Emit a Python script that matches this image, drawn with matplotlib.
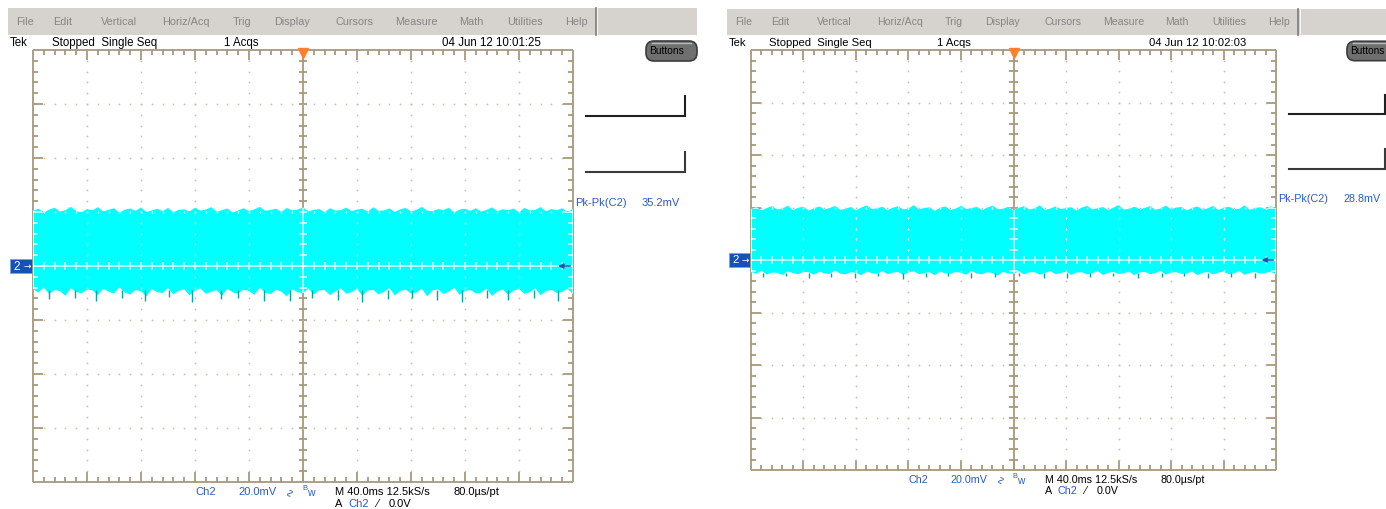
import numpy as np
import matplotlib
matplotlib.use("Agg")
import matplotlib.pyplot as plt
from matplotlib.collections import LineCollection
from matplotlib.patches import Rectangle, FancyBboxPatch
import matplotlib.transforms as mtransforms

W, H = 1386, 509
NARROW = ['Liberation Sans Narrow', 'Liberation Sans', 'DejaVu Sans']
SANS = ['Liberation Sans', 'DejaVu Sans']

# scope settings (same on both captures)
mv_per_div = 20.0
ms_per_div = 40.0
n_xdiv = 10
n_ydiv = 8
trig_pos_ms = 200.0
trig_level_mv = 0.0

menu_items = ["File", "Edit", "Vertical", "Horiz/Acq", "Trig", "Display",
              "Cursors", "Measure", "Math", "Utilities", "Help"]
menu_x = [25, 63, 119, 186, 242, 292, 354, 416, 471, 525, 576]

timestamps = ["04 Jun 12 10:01:25", "04 Jun 12 10:02:03"]
pkpk_vals = ["35.2mV", "28.8mV"]

# noise envelope of the captured trace (mV)
top_left = [20.5, 21.2, 19.8, 20.9, 21.6, 20.1, 20.7, 21.9, 20.3, 19.9, 21.1, 20.6, 21.8, 20.2,
            20.8, 21.4, 19.7, 20.9, 21.3, 20.4, 21.7, 20.0, 20.6, 21.2, 20.3, 21.5, 19.9, 20.8,
            21.0, 20.2, 21.6, 20.5, 20.9, 21.8, 20.1, 20.7, 21.3, 19.8, 20.6, 21.4, 20.3, 21.0,
            21.9, 20.4, 20.8, 21.2, 20.0, 21.5, 20.6, 20.9, 21.7, 20.2, 20.8, 21.1, 19.9, 21.4,
            20.5, 20.7, 21.6, 20.3, 20.9, 21.2, 20.1, 21.8, 20.4, 20.6, 21.3, 20.0, 21.0, 21.5,
            20.2, 20.8, 21.9, 20.5, 20.3, 21.1, 20.7, 21.6, 19.8, 20.9, 21.2, 20.4, 21.4, 20.1,
            20.8, 21.7, 20.3, 21.0, 20.6, 21.3, 19.9, 21.5, 20.5, 20.8, 21.8, 20.2, 21.1, 20.6,
            21.4, 20.0, 21.2]
bot_left = [-8.6, -9.8, -7.9, -10.4, -8.9, -9.3, -11.0, -8.2, -9.6, -10.1, -8.7, -9.0, -10.8,
            -8.4, -9.5, -10.2, -7.8, -9.9, -10.6, -8.8, -9.4, -11.2, -8.5, -9.7, -10.0, -8.1,
            -10.5, -9.2, -8.6, -10.9, -9.1, -8.3, -10.3, -9.6, -8.9, -11.1, -8.4, -9.8, -10.2,
            -8.7, -9.3, -10.7, -8.0, -9.9, -10.4, -8.8, -9.5, -11.3, -8.6, -9.7, -10.1, -8.3,
            -10.6, -9.0, -8.9, -10.8, -9.4, -8.2, -10.3, -9.7, -8.5, -11.0, -9.1, -8.8, -10.5,
            -9.6, -8.1, -10.9, -9.3, -8.7, -10.2, -9.8, -8.4, -11.2, -9.0, -8.6, -10.4, -9.5,
            -8.0, -10.7, -9.2, -8.9, -10.1, -9.9, -8.3, -11.1, -9.4, -8.7, -10.6, -9.1, -8.5,
            -10.3, -9.7, -8.2, -10.8, -9.3, -8.8, -10.0, -9.6, -8.4, -10.5]
spike_t_left = [12, 31, 47, 66, 83, 101, 118, 139, 152, 171, 190, 207, 226, 244, 263, 281,
                299, 318, 336, 352, 371, 389]
spike_v_left = [-12.4, -11.8, -13.1, -12.0, -12.9, -11.6, -13.4, -12.2, -11.9, -12.8, -13.0,
                -11.7, -12.5, -13.3, -12.1, -11.8, -12.7, -13.2, -12.0, -12.6, -11.9, -12.8]

top_right = [19.4, 20.1, 18.9, 19.8, 20.5, 19.2, 19.6, 20.7, 19.0, 19.9, 20.3, 18.8, 19.7, 20.4,
             19.3, 19.8, 20.6, 19.1, 19.5, 20.2, 18.9, 20.0, 20.8, 19.4, 19.7, 20.3, 19.0, 19.9,
             20.5, 19.2, 19.6, 20.9, 19.3, 19.8, 20.1, 18.7, 19.9, 20.4, 19.1, 19.6, 20.6, 19.4,
             19.8, 20.2, 19.0, 20.0, 20.7, 19.3, 19.5, 20.3, 18.9, 19.9, 20.5, 19.2, 19.7, 20.8,
             19.1, 19.6, 20.4, 19.4, 19.8, 20.1, 18.8, 20.0, 20.6, 19.3, 19.7, 20.2, 19.0, 19.9,
             20.9, 19.2, 19.5, 20.3, 19.4, 19.8, 20.5, 19.1, 19.6, 20.7, 19.3, 20.0, 20.2, 18.9,
             19.8, 20.4, 19.2, 19.7, 20.6, 19.0, 19.9, 20.3, 19.4, 19.5, 20.8, 19.1, 19.8, 20.1,
             19.3, 20.5, 19.6]
bot_right = [-4.6, -5.2, -4.1, -5.5, -4.8, -4.9, -5.7, -4.3, -5.0, -5.4, -4.5, -4.7, -5.6, -4.4,
             -5.1, -5.3, -4.0, -5.2, -5.5, -4.6, -4.9, -5.8, -4.4, -5.0, -5.3, -4.2, -5.4, -4.8,
             -4.5, -5.7, -4.7, -4.3, -5.4, -5.0, -4.6, -5.8, -4.4, -5.1, -5.3, -4.5, -4.9, -5.6,
             -4.1, -5.2, -5.4, -4.6, -5.0, -5.9, -4.5, -5.1, -5.3, -4.3, -5.5, -4.7, -4.6, -5.6,
             -4.9, -4.2, -5.4, -5.0, -4.4, -5.7, -4.8, -4.6, -5.5, -5.0, -4.2, -5.7, -4.9, -4.5,
             -5.3, -5.1, -4.4, -5.8, -4.7, -4.5, -5.4, -5.0, -4.1, -5.6, -4.8, -4.6, -5.3, -5.2,
             -4.3, -5.8, -4.9, -4.5, -5.5, -4.8, -4.4, -5.4, -5.1, -4.2, -5.6, -4.9, -4.6, -5.2,
             -5.0, -4.4, -5.5]
spike_t_right = [9, 27, 44, 61, 79, 97, 116, 133, 150, 168, 186, 204, 223, 241, 258, 276,
                 295, 313, 330, 348, 366, 384]
spike_v_right = [-6.6, -6.1, -7.0, -6.3, -6.8, -6.0, -7.1, -6.4, -6.2, -6.9, -6.5, -6.1, -6.7,
                 -7.0, -6.3, -6.0, -6.8, -6.6, -6.2, -6.9, -6.4, -6.7]

TAN = '#a8997a'
DOT = '#c4bcac'
CYAN = '#00ffff'
TEAL = '#00a8a8'
BLUE = '#2a5bc8'
CHBOX = '#1452b8'


def graticule(ax, color, dotcolor, lw, zorder, clip=None, alpha=1.0):
    xmax = n_xdiv * ms_per_div
    ymax = n_ydiv / 2 * mv_per_div
    mx = ms_per_div / 5
    my = mv_per_div / 5
    segs = [[(0, -ymax), (xmax, -ymax)], [(xmax, -ymax), (xmax, ymax)],
            [(xmax, ymax), (0, ymax)], [(0, ymax), (0, -ymax)],
            [(xmax / 2, -ymax), (xmax / 2, ymax)], [(0, 0), (xmax, 0)]]
    for i in range(1, n_xdiv * 5):
        x = i * mx
        ly = (0.19 if i % 5 == 0 else 0.10) * mv_per_div
        segs += [[(x, ymax), (x, ymax - ly)], [(x, -ymax), (x, -ymax + ly)]]
        c = 0.08 * mv_per_div
        segs.append([(x, -c), (x, c)])
    for j in range(1, n_ydiv * 5):
        y = -ymax + j * my
        lx = (0.19 if j % 5 == 0 else 0.10) * ms_per_div
        segs += [[(0, y), (lx, y)], [(xmax, y), (xmax - lx, y)]]
        c = 0.08 * ms_per_div
        segs.append([(xmax / 2 - c, y), (xmax / 2 + c, y)])
    lc = LineCollection(segs, colors=color, linewidths=lw, zorder=zorder,
                        capstyle='butt', alpha=alpha)
    ax.add_collection(lc)
    # dotted division lines
    dx, dy = [], []
    for k in range(1, n_xdiv):
        if k == n_xdiv // 2:
            continue
        for j in range(1, n_ydiv * 5):
            dx.append(k * ms_per_div)
            dy.append(-ymax + j * my)
    for k in range(1, n_ydiv):
        if k == n_ydiv // 2:
            continue
        for i in range(1, n_xdiv * 5):
            dx.append(i * mx)
            dy.append(-ymax + k * mv_per_div)
    dots, = ax.plot(dx, dy, ls='none', marker='s', ms=1.1, mec='none', mfc=dotcolor,
                    zorder=zorder, alpha=alpha)
    if clip is not None:
        lc.set_clip_path(clip)
        dots.set_clip_path(clip)
    else:
        lc.set_clip_on(False)
        dots.set_clip_on(False)


def draw_screen(fig, ui, g, top, bot, sp_t, sp_v, sp_base, stamp, pkpk):
    s = g['s']

    def P(x, y):
        return g['x0'] + (x - 33) * s, 50 + (y - 50) * s

    # --- menu bar ---
    x1, y1 = P(8, 8)
    x2, y2 = P(697, 35)
    ui.add_patch(Rectangle((x1, y1), x2 - x1, y2 - y1, fc='#d6d3ce', ec='none'))
    sx, _ = P(596, 0)
    ui.plot([sx, sx], [y1, y2], color='#7c7c7c', lw=1.2)
    ui.plot([sx + 1.2, sx + 1.2], [y1, y2], color='#f4f4f4', lw=0.8)
    for name, mx in zip(menu_items, menu_x):
        px, py = P(mx, 21.5)
        ui.text(px, py, name, ha='center', va='center', fontsize=7.8 * s,
                color='#858585', family=SANS)

    # --- status line ---
    for txt, tx in [("Tek", 10), ("Stopped  Single Seq", 52), ("1 Acqs", 224), (stamp, 442)]:
        px, py = P(tx, 43)
        ui.text(px, py, txt, ha='left', va='center', fontsize=8.3 * s, color='black',
                family=NARROW)

    # --- Buttons pill (cut by the capture edge on the right screen) ---
    bx1, by1 = P(646, 41)
    bx2, by2 = P(697, 61)
    ui.add_patch(FancyBboxPatch((bx1, by1), bx2 - bx1, by2 - by1,
                                boxstyle="round,pad=0,rounding_size=8",
                                fc='#6f6f6f', ec='#3c3c3c', lw=1.2))
    ui.plot([bx1 + 6, bx2 - 6], [by1 + 1.5, by1 + 1.5], color='#b8b8b8', lw=1.0)
    px, py = P(647, 51)
    ui.text(px + 2.5, py, "Buttons", ha='left', va='center', fontsize=7.4 * s,
            color='black', family=SANS)

    # --- measurement brackets + readout ---
    for ybr, col in [(116, '#202020'), (172, '#3a3a3a')]:
        ax1, ay1 = P(586, ybr)
        ax2, ay2 = P(685, ybr - 20)
        ui.plot([ax1, ax2, ax2], [ay1, ay1, ay2], color=col, lw=1.5, solid_joinstyle='miter')
    px, py = P(575, 203)
    ui.text(px, py, "Pk-Pk(C2)", ha='left', va='center', fontsize=8 * s, color=BLUE,
            family=SANS)
    px, py = P(642, 203)
    ui.text(px, py, pkpk, ha='left', va='center', fontsize=8 * s, color=BLUE, family=SANS)

    # --- bottom readouts ---
    row1 = [("Ch2", 195, BLUE), ("20.0mV", 238, BLUE), ("M 40.0ms 12.5kS/s", 335, 'black'),
            ("80.0\u00b5s/pt", 454, 'black')]
    for txt, tx, col in row1:
        px, py = P(tx, 492)
        ui.text(px, py, txt, ha='left', va='center', fontsize=8 * s, color=col, family=SANS)
    px, py = P(284, 491)
    ui.text(px, py, "\u223f", ha='left', va='center', fontsize=8 * s, color=BLUE,
            family=['DejaVu Sans'], rotation=90)
    px, py = P(302, 489)
    ui.text(px, py, "B", ha='left', va='center', fontsize=5.5 * s, color=BLUE, family=SANS)
    px, py = P(307, 493)
    ui.text(px, py, "w", ha='left', va='center', fontsize=7.5 * s, color=BLUE, family=SANS)
    row2 = [("A", 335, 'black'), ("Ch2", 348, BLUE), ("\u2044", 376, 'black'),
            ("0.0V", 389, 'black')]
    for txt, tx, col in row2:
        px, py = P(tx, 504)
        ui.text(px, py, txt, ha='left', va='center', fontsize=8 * s, color=col,
                family=SANS + ['DejaVu Sans'])

    # --- channel 2 ground marker ---
    cx1, cy1 = P(10, 259)
    cx2, cy2 = P(33, 273)
    ui.add_patch(Rectangle((cx1, cy1), cx2 - cx1, cy2 - cy1, fc=CHBOX, ec='#7fa0e0', lw=0.6))
    px, py = P(17, 266.5)
    ui.text(px, py, "2", ha='center', va='center', fontsize=8.5 * s, color='white',
            family=SANS)
    px, py = P(27.5, 266)
    ui.text(px, py, "\u2192", ha='center', va='center', fontsize=6.5 * s, color='white',
            family=['DejaVu Sans'])

    # --- graticule area in data units (ms, mV) ---
    gx0, gy0 = P(33, 50)
    gw, gh = 540 * s, 432 * s
    ax = fig.add_axes([gx0 / W, 1 - (gy0 + gh) / H, gw / W, gh / H], zorder=2)
    xmax = n_xdiv * ms_per_div
    ymax = n_ydiv / 2 * mv_per_div
    ax.set_xlim(0, xmax)
    ax.set_ylim(-ymax, ymax)
    ax.axis('off')

    graticule(ax, TAN, DOT, 1.3, 1)

    xt = np.linspace(0, xmax, len(top))
    xb = np.linspace(0, xmax, len(bot))
    band = ax.fill(np.concatenate([xt, xb[::-1]]), np.concatenate([top, bot[::-1]]),
                   color=CYAN, lw=0, zorder=2)[0]
    ax.vlines(sp_t, sp_base, sp_v, color=TEAL, lw=1.0, zorder=2.5)
    graticule(ax, 'white', 'white', 1.3, 3, clip=band, alpha=0.75)

    # trigger position / level markers
    tr = mtransforms.offset_copy(ax.transData, fig=fig, x=0, y=-3, units='dots')
    ax.plot([trig_pos_ms], [ymax], marker='v', ms=7, color='#ff7f2a', mec='#ff7f2a',
            clip_on=False, zorder=6, transform=tr)
    ax.annotate('', xy=(xmax - 11, trig_level_mv), xytext=(xmax - 2, trig_level_mv),
                arrowprops=dict(arrowstyle='-|>', color='#1a4fb0', lw=1.1,
                                mutation_scale=7, shrinkA=0, shrinkB=0),
                zorder=6, annotation_clip=False)


fig = plt.figure(figsize=(W / 100, H / 100), dpi=100)
ui = fig.add_axes([0, 0, 1, 1], zorder=0)
ui.set_xlim(0, W)
ui.set_ylim(H, 0)
ui.axis('off')

screens = [dict(x0=33, s=1.0), dict(x0=751, s=525 / 540)]
draw_screen(fig, ui, screens[0], top_left, bot_left, spike_t_left, spike_v_left, -9.0,
            timestamps[0], pkpk_vals[0])
draw_screen(fig, ui, screens[1], top_right, bot_right, spike_t_right, spike_v_right, -5.0,
            timestamps[1], pkpk_vals[1])

fig.savefig("out.png", dpi=100, facecolor='white')
plt.close(fig)
